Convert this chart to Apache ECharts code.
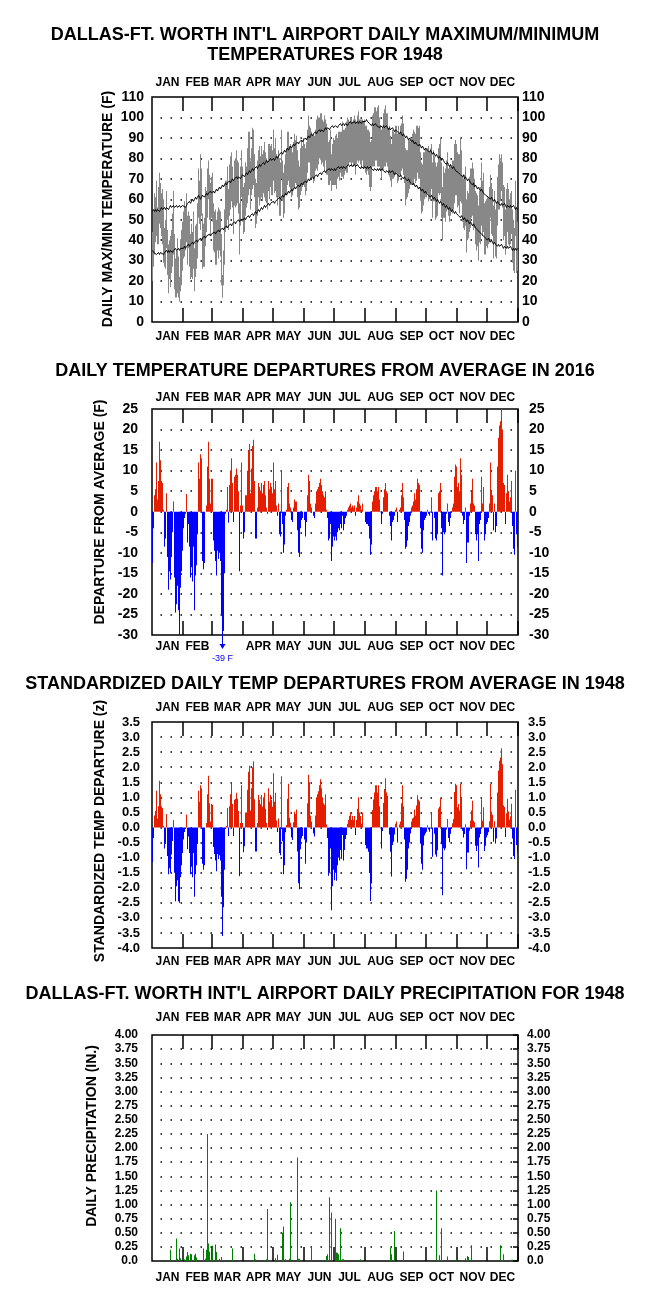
<!DOCTYPE html>
<html><head><meta charset="utf-8">
<script src="https://cdn.jsdelivr.net/npm/echarts@6/dist/echarts.min.js"></script>
<style>html,body{margin:0;padding:0;background:#fff}#c{width:650px;height:1306px}</style>
</head><body><div id="c"></div>
<script>
const months = ['JAN','FEB','MAR','APR','MAY','JUN','JUL','AUG','SEP','OCT','NOV','DEC'];
const monthDays = [31,29,31,30,31,30,31,31,30,31,30,31];

const maxT = [
44,54,63,61,69,56,66,73,68,63,65,60,46,50,64,45,38,40,42,45,53,64,43,31,35,41,32,22,40,45,49,
54,59,56,63,52,54,52,43,48,44,54,36,47,48,58,75,69,82,75,53,48,51,66,64,75,79,72,68,71,
73,58,54,55,50,54,56,55,54,43,23,35,55,69,69,76,65,77,81,83,76,69,79,80,84,79,78,58,76,84,76,
66,68,78,76,85,93,93,79,85,95,94,82,70,68,79,84,86,81,86,82,84,88,83,80,79,87,87,86,87,84,
94,85,90,82,81,84,80,78,94,79,73,77,82,85,93,93,86,87,85,83,88,92,89,91,84,79,76,85,89,86,90,
87,85,88,94,101,96,95,93,91,92,91,94,99,101,100,100,102,102,99,98,101,99,97,94,88,89,94,82,87,90,
89,91,92,90,93,93,93,93,98,94,94,95,98,100,99,98,100,100,98,99,101,99,98,101,103,99,99,99,99,98,99,
96,96,94,94,93,88,89,101,102,105,105,103,105,106,100,96,94,95,102,104,106,102,102,95,96,91,87,94,93,92,96,
96,92,96,92,96,97,101,97,90,85,84,84,89,89,88,90,92,94,93,92,96,96,95,96,83,78,77,83,83,85,
85,85,86,83,85,87,78,84,81,78,76,78,85,87,90,78,66,76,73,75,79,83,75,76,77,76,79,79,87,89,87,
83,82,82,90,84,71,70,72,76,60,64,63,71,75,75,78,75,70,64,63,62,57,64,66,78,69,73,58,59,60,
61,61,66,72,68,65,57,64,55,58,71,77,82,79,82,78,67,66,55,65,68,65,60,63,64,55,50,46,69,56,49];

const minT = [
20,27,33,39,42,38,38,48,46,42,38,29,27,26,36,23,14,21,17,24,27,33,16,12,12,14,12,10,15,18,25,
31,32,35,39,28,36,27,21,22,21,26,15,22,26,31,51,48,45,52,26,27,27,37,44,51,60,50,42,51,
49,35,34,28,28,35,31,35,32,18,12,18,28,44,46,50,45,52,55,59,56,43,57,56,57,58,53,33,47,61,49,
43,44,52,56,58,62,65,55,62,65,67,61,46,48,52,61,57,60,61,59,63,61,59,58,55,64,60,66,62,62,
69,63,64,61,57,61,52,52,70,59,51,53,62,62,67,69,66,65,61,62,66,66,68,67,61,55,56,62,64,66,67,
66,62,64,73,78,78,70,71,71,68,69,74,75,74,77,80,80,77,78,76,74,79,72,72,67,67,69,64,67,67,
67,67,65,70,71,69,73,71,71,70,72,74,73,73,77,78,78,76,78,76,77,72,77,79,78,79,77,75,79,75,75,
73,72,74,72,66,64,66,76,76,76,79,79,76,76,76,74,70,74,75,76,76,78,76,72,71,69,66,70,70,71,72,
73,68,69,72,71,74,75,72,68,57,60,61,63,65,67,68,67,67,70,68,69,73,70,70,60,53,54,57,60,61,
61,63,59,60,60,65,51,59,59,50,51,52,63,62,63,51,40,51,51,49,54,55,52,49,52,54,53,55,58,62,62,
56,57,53,59,58,49,46,45,47,34,40,41,44,46,51,52,45,46,38,35,37,30,39,38,47,42,44,33,33,37,
36,38,39,51,43,42,31,39,32,31,47,55,55,59,64,56,40,42,33,36,44,38,37,38,43,29,25,24,42,24,25];

const normMax = [
54,55,54,55,54,55,55,54,55,56,55,55,56,55,56,56,55,56,57,56,56,57,56,56,57,56,56,57,56,56,57,
57,57,56,57,58,58,59,58,59,60,59,60,61,60,61,62,61,60,61,62,62,61,62,63,62,63,63,64,63,
63,64,63,64,65,64,65,66,65,66,67,66,67,68,67,68,68,69,68,69,70,69,70,70,71,70,71,71,70,71,72,
72,71,72,73,72,73,74,73,74,75,74,75,75,76,75,76,77,76,77,77,78,77,78,79,78,78,79,80,79,79,
80,79,80,81,80,81,82,82,83,82,83,84,83,84,85,84,85,86,85,86,87,86,87,87,88,87,88,88,89,88,89,
89,90,89,90,91,90,91,92,91,92,92,93,92,93,93,94,93,94,94,93,94,95,94,95,95,94,95,95,96,95,
95,96,96,95,96,96,97,96,96,97,96,97,97,96,97,97,98,97,97,97,98,97,97,98,97,98,98,97,98,98,98,
98,99,98,98,97,97,96,97,96,96,97,96,96,96,95,96,96,95,96,95,95,96,95,94,95,94,94,95,94,93,94,
94,93,93,92,93,92,91,92,91,90,91,90,89,90,89,88,89,88,87,88,87,87,86,87,86,85,86,85,84,85,
85,84,84,83,84,83,82,83,82,81,82,81,80,81,80,79,80,79,78,78,77,78,77,76,77,76,75,76,75,74,74,
74,73,73,72,72,71,72,70,71,70,69,70,69,68,68,67,68,66,67,66,65,66,65,64,65,64,63,63,62,62,
62,61,61,60,61,60,59,60,59,58,59,58,58,57,58,57,57,58,57,56,57,57,56,57,56,56,57,56,55,56,55];

const normMin = [
35,34,34,34,33,33,34,33,34,34,34,33,34,34,35,34,35,34,35,35,34,35,35,36,35,35,36,35,36,36,36,
36,37,36,37,37,38,37,38,38,39,38,39,39,40,39,40,40,41,40,41,41,42,41,42,42,42,43,42,43,
43,43,44,43,44,44,45,44,45,45,46,45,46,46,47,46,47,47,48,47,48,48,49,48,49,49,50,49,50,50,50,
50,51,50,51,51,52,51,52,52,53,52,53,54,53,54,55,54,55,56,55,56,57,56,57,57,58,57,58,58,58,
59,58,59,59,60,60,61,60,61,62,61,62,63,62,63,64,63,64,65,64,65,66,65,66,66,67,66,67,68,67,68,
68,69,68,69,70,69,70,70,71,70,71,71,72,71,72,72,73,72,73,73,74,73,74,74,74,75,74,75,75,74,
75,74,75,75,76,75,75,76,75,76,76,75,76,76,77,76,76,77,76,76,77,76,76,77,76,76,75,76,76,75,76,
76,75,76,75,75,76,75,75,74,75,75,74,75,74,75,74,74,75,74,74,73,74,74,73,74,73,73,74,73,72,73,
73,72,72,71,72,71,71,70,71,70,70,69,70,69,68,68,67,68,67,66,67,66,65,66,65,64,65,64,63,64,
63,63,62,62,61,62,61,60,61,60,59,60,59,58,59,58,57,58,57,56,57,56,55,56,55,54,55,54,53,54,53,
53,52,52,51,52,51,50,51,50,49,50,49,48,49,48,47,48,47,46,46,45,45,44,44,43,43,42,42,41,41,
40,41,40,39,40,39,38,39,38,38,37,38,37,37,38,37,36,37,37,36,37,36,36,37,36,35,36,35,36,35,36];

const depF = [
-12.5,-4,4,5.5,12,3,7.5,17,12.5,7.5,7,0.5,-8.5,-6.5,4.5,-11,-19,-14.5,-16.5,-11,-5,2.5,-16,-24.5,-22.5,-18,-24,-30,-18.5,-14.5,-9.5,
-4,-1.5,-0.5,4.3,-7.5,-3,-8.5,-16,-13.5,-17,-8.5,-24,-15.5,-13,-5.5,12,8,14,13,-12,-14,-12.5,0,1.5,11,17,8,2,8,
8,-7,-9.5,-12,-15.5,-9.5,-11.5,-10,-12,-25,-39,-29,-15,-0.5,0.5,6,-2.7,6.5,10,13,7,-2.5,8.5,9,10.5,9,5,-14.5,1.5,12,1.5,
-6.5,-5,4,4,10,15,16.5,4.5,10.5,16,17.5,7.5,-6.5,-6.5,1,7,6,5,7,4.5,6.5,7.5,4,1,-0.5,7.5,5.5,7,6,4.5,
12,5.5,7.5,1.5,-1,2,-5.5,-6,10,-3,-10,-8,-1,0.5,6,7,2,1,-2,-2.5,1,3,2.5,2.5,-4.5,-10,-11,-4,-2,-1.5,0,
-2,-6,-2.5,4,9,7.5,2,1,0,-1,-1.5,2,5,5.5,6,7,8,6.5,5,4,3.5,5,0.5,-1.5,-7,-6.5,-3,-12,-8.5,-6,
-7,-6,-7,-5,-4,-4.5,-3,-4,-1,-4.5,-3,-1.5,-1,0.5,1,1.5,2,1,1.5,1,1.5,-1,1,2.5,4,2,1.5,0.5,2,0,0,
-2.5,-3,-3,-3.5,-6.5,-10.5,-8,2.5,4,5,6,6,5,6,3,0,-3,-0.5,3.5,5.5,7,5,4.5,0,-1,-3.5,-7,-2.5,-2,-1,0.5,
1,-2.5,0,0.5,1,4,7,3.5,-2,-9,-8.5,-7,-3.5,-2.5,-1,1,1.5,2.5,4.5,3,5.5,8,7,6.5,-4,-9,-10,-4.5,-2,-1.5,
-1,0.5,-0.5,-1,0,3.5,-7,0,-1.5,-6.5,-7,-5.5,4.5,5,7,-4,-15.5,-5,-5.5,-5,-0.5,2,-2.5,-3.5,-1.5,0,1,2,8.5,11.5,11,
6,7,5,13,9,-1,-3,-2,1,-12.5,-7.5,-7.5,-1,2,5,8,2,1.5,-5.5,-7,-5.5,-12,-3,-2,8.5,2,6,-7,-5.5,-3,
-2.5,-1.5,2,12,5,4,-4.5,2,-5,-3.5,11,18,21,22,25,20,7,6.5,-3,4.5,9,5,2.5,3.5,7.5,-3.5,-9,-10.5,10,-5.5,-8.5];

const depZ = [
-1.15,-0.35,0.4,0.55,1.22,0.3,0.7,1.55,1.1,0.7,0.65,0.05,-0.7,-0.55,0.45,-0.95,-1.55,-1.35,-1.5,-0.9,-0.45,0.25,-1.5,-2.45,-1.95,-1.75,-2.45,-2.5,-1.65,-1.25,-0.85,
-0.4,-0.15,-0.05,0.43,-0.72,-0.3,-0.85,-1.55,-1.3,-1.65,-0.85,-2.3,-1.55,-1.25,-0.55,1.22,0.85,1.4,1.3,-1.2,-1.4,-1.25,0,0.15,1.1,1.72,0.8,0.2,0.78,
0.75,-0.65,-0.88,-1.1,-1.45,-0.88,-1.05,-0.92,-1.1,-2.3,-3.6,-2.65,-1.4,-0.05,0.05,0.65,-0.28,0.7,1.1,1.45,0.78,-0.28,0.92,0.95,1.15,0.95,0.55,-1.62,0.15,1.4,0.15,
-0.82,-0.62,0.5,0.5,1.25,1.85,2.05,0.56,1.3,2.0,2.2,0.94,-0.8,-0.8,0.15,1.08,0.92,0.77,1.08,0.69,1.0,1.15,0.62,0.15,-0.08,1.3,0.85,1.08,0.92,0.69,
1.8,0.85,1.15,0.23,-0.15,0.3,-0.85,-0.92,1.7,-0.46,-1.55,-1.25,-0.16,0.08,0.95,1.45,0.32,0.16,-0.33,-0.42,0.17,0.52,0.45,0.6,-0.8,-1.85,-2.05,-0.72,-0.37,-0.28,0,
-0.4,-1.2,-0.5,0.8,1.75,1.5,0.4,0.2,0,-0.2,-0.3,0.4,1.0,1.1,1.2,1.4,1.6,1.3,1.0,0.8,0.75,1.1,0.1,-0.35,-1.6,-1.5,-0.7,-2.75,-1.95,-1.4,
-1.75,-1.5,-1.77,-1.25,-1.0,-1.1,-0.75,-1.0,-0.25,-1.1,-0.75,-0.38,-0.25,0.12,0.25,0.38,0.5,0.25,0.38,0.25,0.38,-0.25,0.25,0.62,1.0,0.5,0.38,0.12,0.5,0,0,
-0.58,-0.7,-0.7,-0.81,-1.51,-2.44,-1.86,0.58,0.93,1.16,1.4,1.4,1.16,1.4,0.7,0,-0.7,-0.12,0.81,1.28,1.63,1.16,1.05,0,-0.23,-0.81,-1.63,-0.58,-0.47,-0.23,0.12,
0.2,-0.5,0,0.1,0.2,0.8,1.4,0.7,-0.4,-1.8,-1.7,-1.4,-0.7,-0.5,-0.2,0.2,0.3,0.33,0.6,0.4,0.73,1.07,0.93,0.87,-0.53,-1.2,-1.4,-0.6,-0.27,-0.2,
-0.14,0.07,-0.07,-0.14,0,0.49,-0.97,0,-0.21,-0.9,-0.97,-0.76,0.63,0.69,0.97,-0.56,-2.25,-0.69,-0.76,-0.69,-0.07,0.28,-0.35,-0.49,-0.21,0,0.14,0.28,1.18,1.45,1.4,
0.67,0.78,0.56,1.45,1.0,-0.11,-0.33,-0.22,0.11,-1.39,-0.83,-0.83,-0.11,0.22,0.56,0.89,0.22,0.17,-0.61,-0.78,-0.61,-1.33,-0.33,-0.22,0.94,0.22,0.67,-0.78,-0.61,-0.33,
-0.26,-0.16,0.21,1.45,0.53,0.42,-0.47,0.21,-0.53,-0.37,1.16,1.89,2.21,2.32,2.63,2.1,0.74,0.68,-0.32,0.47,0.95,0.53,0.26,0.37,0.79,-0.37,-0.95,-1.05,1.25,-0.58,-0.85];

// precipitation: day-of-year index (0 = Jan 1) and inches
const precipDay = [18,24,25,27,28,32,34,35,36,38,39,42,43,44,51,53,54,55,56,57,59,60,63,64,67,69,80,102,103,114,115,123,125,130,131,133,137,138,145,146,147,159,174,175,177,179,183,184,185,186,188,190,191,208,238,239,242,251,284,287,289,295,304,313,315,316,319,348,351,359,360];
const precipIn = [0.2,0.4,0.04,0.22,0.05,0.03,0.08,0.16,0.1,0.13,0.12,0.1,0.13,0.06,0.22,0.04,0.2,2.25,0.31,0.17,0.04,0.27,0.29,0.16,0.04,0.07,0.22,0.13,0.03,0.03,0.92,0.05,0.11,0.5,0.61,0.03,0.04,1.04,1.83,0.04,0.04,0.24,0.09,0.12,1.13,0.86,0.75,0.15,0.14,0.12,0.58,0.03,0.03,0.03,0.24,0.12,0.53,0.17,1.25,0.1,0.58,0.08,0.03,0.05,0.09,0.07,0.28,0.28,0.12,0.02,0.02];

const titles = [
  "DALLAS-FT. WORTH INT'L AIRPORT DAILY MAXIMUM/MINIMUM",
  "TEMPERATURES FOR 1948",
  "DAILY TEMPERATURE DEPARTURES FROM AVERAGE IN 2016",
  "STANDARDIZED DAILY TEMP DEPARTURES FROM AVERAGE IN 1948",
  "DALLAS-FT. WORTH INT'L AIRPORT DAILY PRECIPITATION FOR 1948"
];
const yNames = ["DAILY MAX/MIN TEMPERATURE (F)", "DEPARTURE FROM AVERAGE (F)", "STANDARDIZED TEMP DEPARTURE (z)", "DAILY PRECIPITATION (IN.)"];

// ---- build ----
const FONT = '"Liberation Sans", Arial, Helvetica, sans-serif';
const RED = '#e61e00', BLUE = '#0000ff', GREEN = '#008000';
const days = [], monthStart = [], monthMid = [];
let acc = 0;
monthDays.forEach((n, m) => {
  monthStart.push(acc); monthMid.push(acc + Math.floor(n / 2));
  for (let d = 1; d <= n; d++) days.push(months[m] + ' ' + d);
  acc += n;
});
const precip = days.map(() => 0);
precipDay.forEach((d, i) => { precip[d] = precipIn[i]; });

const grids = [
  {left:152, top:97, width:366, height:225},
  {left:152, top:409, width:366, height:226},
  {left:152, top:722, width:366, height:226},
  {left:152, top:1035, width:366, height:226}
].map(g => Object.assign(g, {show:true, borderColor:'#000', borderWidth:1.5, backgroundColor:'transparent'}));

function xAx(g, pos, margin, hide) {
  return {
    type:'category', gridIndex:g, position:pos, data:days, boundaryGap:true,
    axisLine:{show:false, onZero:false},
    axisTick:{show:true, inside:true, length:14, interval:(i) => i > 0 && monthStart.indexOf(i) >= 0, lineStyle:{color:'#000', width:1.5}},
    axisLabel:{show:true, interval:(i) => monthMid.indexOf(i) >= 0,
      formatter:(v, i) => { const m = monthMid.indexOf(i); return (hide && hide.indexOf(m) >= 0) ? '' : months[m]; },
      margin, color:'#000', fontFamily:FONT, fontWeight:'bold', fontSize:12},
    splitLine:{show:false}
  };
}
function yAx(g, pos, min, max, interval, fmt, fs, margin, split, ticks) {
  return {
    type:'value', gridIndex:g, position:pos, min, max, interval,
    axisLine:{show:false},
    axisTick:{show:!!ticks, inside:true, length:5, lineStyle:{color:'#000', width:1.5}},
    axisLabel:{formatter:fmt, color:'#000', fontFamily:FONT, fontWeight:'bold', fontSize:fs, margin},
    splitLine:{show:split, showMinLine:false, showMaxLine:false,
      lineStyle:{color:'#000', width:1.5, type:[1.5, 8.5], dashOffset:1.5}}
  };
}
const fInt = v => String(v);
const fZ = v => (Math.abs(v) < 1e-9 ? 0 : v).toFixed(1);
const fP = v => (Math.abs(v) < 1e-9 ? '0.0' : v.toFixed(2));

const xAxis = [
  xAx(0,'bottom',9), xAx(0,'top',8),
  xAx(1,'bottom',6,[2]), xAx(1,'top',5),
  xAx(2,'bottom',8), xAx(2,'top',8),
  xAx(3,'bottom',11), xAx(3,'top',11)
];
const yAxis = [
  yAx(0,'left',0,110,10,fInt,14,8,true), yAx(0,'right',0,110,10,fInt,14,4,false),
  yAx(1,'left',-30,25,5,fInt,14,14,true), yAx(1,'right',-30,25,5,fInt,14,11,false),
  yAx(2,'left',-4,3.5,0.5,fZ,13,12,true), yAx(2,'right',-4,3.5,0.5,fZ,13,10,false),
  yAx(3,'left',0,4,0.25,fP,12,14,true), yAx(3,'right',0,4,0.25,fP,12,9,false,true)
];
const signColor = p => (p.value >= 0 ? RED : BLUE);

const series = [
  {type:'bar', xAxisIndex:0, yAxisIndex:0, stack:'t', data:minT, barCategoryGap:'0%', itemStyle:{color:'rgba(0,0,0,0)'}, silent:true},
  {type:'bar', xAxisIndex:0, yAxisIndex:0, stack:'t', data:maxT.map((v, i) => v - minT[i]), barCategoryGap:'0%', itemStyle:{color:'#888888'}},
  {type:'line', xAxisIndex:0, yAxisIndex:0, data:normMax, symbol:'none', lineStyle:{color:'#000', width:1}, z:5},
  {type:'line', xAxisIndex:0, yAxisIndex:0, data:normMin, symbol:'none', lineStyle:{color:'#000', width:1}, z:5},
  {type:'bar', xAxisIndex:2, yAxisIndex:2, data:depF, barCategoryGap:'0%', itemStyle:{color:signColor}},
  {type:'bar', xAxisIndex:4, yAxisIndex:4, data:depZ, barCategoryGap:'0%', itemStyle:{color:signColor}},
  {type:'bar', xAxisIndex:6, yAxisIndex:6, data:precip, barCategoryGap:'0%', itemStyle:{color:GREEN}}
];

const chart = echarts.init(document.getElementById('c'), null, {renderer:'canvas'});
chart.setOption({animation:false, grid:grids, xAxis, yAxis, series});

const tFont = 'bold 18px ' + FONT;
const gfx = [];
[[titles[0],35],[titles[1],55],[titles[2],371],[titles[3],684],[titles[4],994]].forEach(([t, y]) => {
  gfx.push({type:'text', x:325, y, style:{text:t, font:tFont, fill:'#000', textAlign:'center', textVerticalAlign:'middle', verticalAlign:'middle'}});
});
[[yNames[0],108,209],[yNames[1],100,512],[yNames[2],100,831],[yNames[3],92,1136]].forEach(([t, x, y]) => {
  gfx.push({type:'text', x, y, rotation:Math.PI/2, style:{text:t, font:'bold 14px ' + FONT, fill:'#000', textAlign:'center', textVerticalAlign:'middle', verticalAlign:'middle'}});
});
// off-scale departure annotation (the -39 F day)
const low = depF.reduce((bi, v, i) => (v < depF[bi] ? i : bi), 0);
const p = chart.convertToPixel({xAxisIndex:2, yAxisIndex:2}, [low, -30]);
gfx.push({type:'line', shape:{x1:p[0], y1:p[1], x2:p[0], y2:p[1] + 13}, style:{stroke:BLUE, lineWidth:1}});
gfx.push({type:'polygon', shape:{points:[[p[0]-3, p[1]+9],[p[0]+3, p[1]+9],[p[0], p[1]+14]]}, style:{fill:BLUE}});
gfx.push({type:'text', x:p[0], y:p[1] + 24, style:{text:Math.round(depF[low]) + ' F', font:'9px ' + FONT, fill:BLUE, textAlign:'center', textVerticalAlign:'middle', verticalAlign:'middle'}});
chart.setOption({graphic:gfx});
</script>
</body></html>
